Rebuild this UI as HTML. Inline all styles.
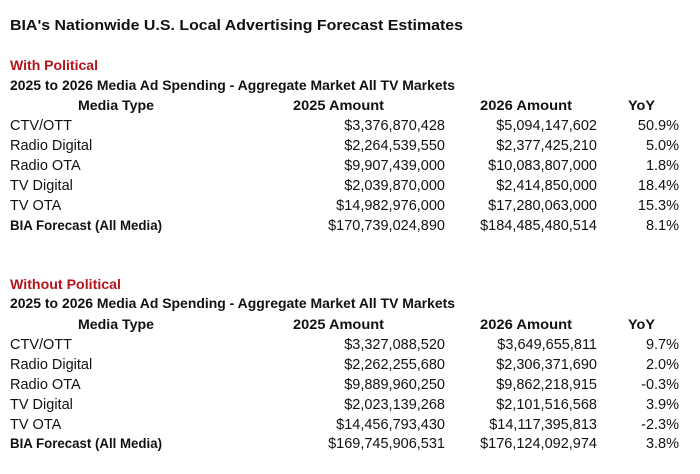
<!DOCTYPE html>
<html><head><style>
html,body{margin:0;padding:0;background:#fff;}
svg{display:block;}
text{font-family:"Liberation Sans",Arial,sans-serif;font-size:14.5px;fill:#111;}
.b{font-weight:bold;font-size:14px;}
.r{fill:#b3151b;}
.e{text-anchor:end;}
.m{text-anchor:middle;}
</style></head><body>
<svg width="700" height="474" viewBox="0 0 700 474">
<text x="10" y="30" class="b" style="font-size:15px" textLength="453" lengthAdjust="spacingAndGlyphs">BIA's Nationwide U.S. Local Advertising Forecast Estimates</text>

<text x="10" y="70" class="b r" textLength="88" lengthAdjust="spacingAndGlyphs">With Political</text>
<text x="10" y="90" class="b" textLength="445" lengthAdjust="spacingAndGlyphs">2025 to 2026 Media Ad Spending - Aggregate Market All TV Markets</text>
<text x="78" y="110" class="b" textLength="76" lengthAdjust="spacingAndGlyphs">Media Type</text>
<text x="293" y="110" class="b" textLength="91" lengthAdjust="spacingAndGlyphs">2025 Amount</text>
<text x="480" y="110" class="b" textLength="92" lengthAdjust="spacingAndGlyphs">2026 Amount</text>
<text x="628" y="110" class="b" textLength="27" lengthAdjust="spacingAndGlyphs">YoY</text>
<g>
<text x="10" y="130">CTV/OTT</text><text x="445" y="130" class="e">$3,376,870,428</text><text x="597" y="130" class="e">$5,094,147,602</text><text x="679" y="130" class="e">50.9%</text>
<text x="10" y="150">Radio Digital</text><text x="445" y="150" class="e">$2,264,539,550</text><text x="597" y="150" class="e">$2,377,425,210</text><text x="679" y="150" class="e">5.0%</text>
<text x="10" y="170">Radio OTA</text><text x="445" y="170" class="e">$9,907,439,000</text><text x="597" y="170" class="e">$10,083,807,000</text><text x="679" y="170" class="e">1.8%</text>
<text x="10" y="190">TV Digital</text><text x="445" y="190" class="e">$2,039,870,000</text><text x="597" y="190" class="e">$2,414,850,000</text><text x="679" y="190" class="e">18.4%</text>
<text x="10" y="210">TV OTA</text><text x="445" y="210" class="e">$14,982,976,000</text><text x="597" y="210" class="e">$17,280,063,000</text><text x="679" y="210" class="e">15.3%</text>
<text x="10" y="230" class="b" textLength="152" lengthAdjust="spacingAndGlyphs">BIA Forecast (All Media)</text><text x="445" y="230" class="e">$170,739,024,890</text><text x="597" y="230" class="e">$184,485,480,514</text><text x="679" y="230" class="e">8.1%</text>
</g>

<text x="10" y="289" class="b r" textLength="111" lengthAdjust="spacingAndGlyphs">Without Political</text>
<text x="10" y="308" class="b" textLength="445" lengthAdjust="spacingAndGlyphs">2025 to 2026 Media Ad Spending - Aggregate Market All TV Markets</text>
<text x="78" y="329" class="b" textLength="76" lengthAdjust="spacingAndGlyphs">Media Type</text>
<text x="293" y="329" class="b" textLength="91" lengthAdjust="spacingAndGlyphs">2025 Amount</text>
<text x="480" y="329" class="b" textLength="92" lengthAdjust="spacingAndGlyphs">2026 Amount</text>
<text x="628" y="329" class="b" textLength="27" lengthAdjust="spacingAndGlyphs">YoY</text>
<g>
<text x="10" y="349">CTV/OTT</text><text x="445" y="349" class="e">$3,327,088,520</text><text x="597" y="349" class="e">$3,649,655,811</text><text x="679" y="349" class="e">9.7%</text>
<text x="10" y="369">Radio Digital</text><text x="445" y="369" class="e">$2,262,255,680</text><text x="597" y="369" class="e">$2,306,371,690</text><text x="679" y="369" class="e">2.0%</text>
<text x="10" y="389">Radio OTA</text><text x="445" y="389" class="e">$9,889,960,250</text><text x="597" y="389" class="e">$9,862,218,915</text><text x="679" y="389" class="e">-0.3%</text>
<text x="10" y="409">TV Digital</text><text x="445" y="409" class="e">$2,023,139,268</text><text x="597" y="409" class="e">$2,101,516,568</text><text x="679" y="409" class="e">3.9%</text>
<text x="10" y="429">TV OTA</text><text x="445" y="429" class="e">$14,456,793,430</text><text x="597" y="429" class="e">$14,117,395,813</text><text x="679" y="429" class="e">-2.3%</text>
<text x="10" y="448" class="b" textLength="152" lengthAdjust="spacingAndGlyphs">BIA Forecast (All Media)</text><text x="445" y="448" class="e">$169,745,906,531</text><text x="597" y="448" class="e">$176,124,092,974</text><text x="679" y="448" class="e">3.8%</text>
</g>
</svg>
</body></html>
